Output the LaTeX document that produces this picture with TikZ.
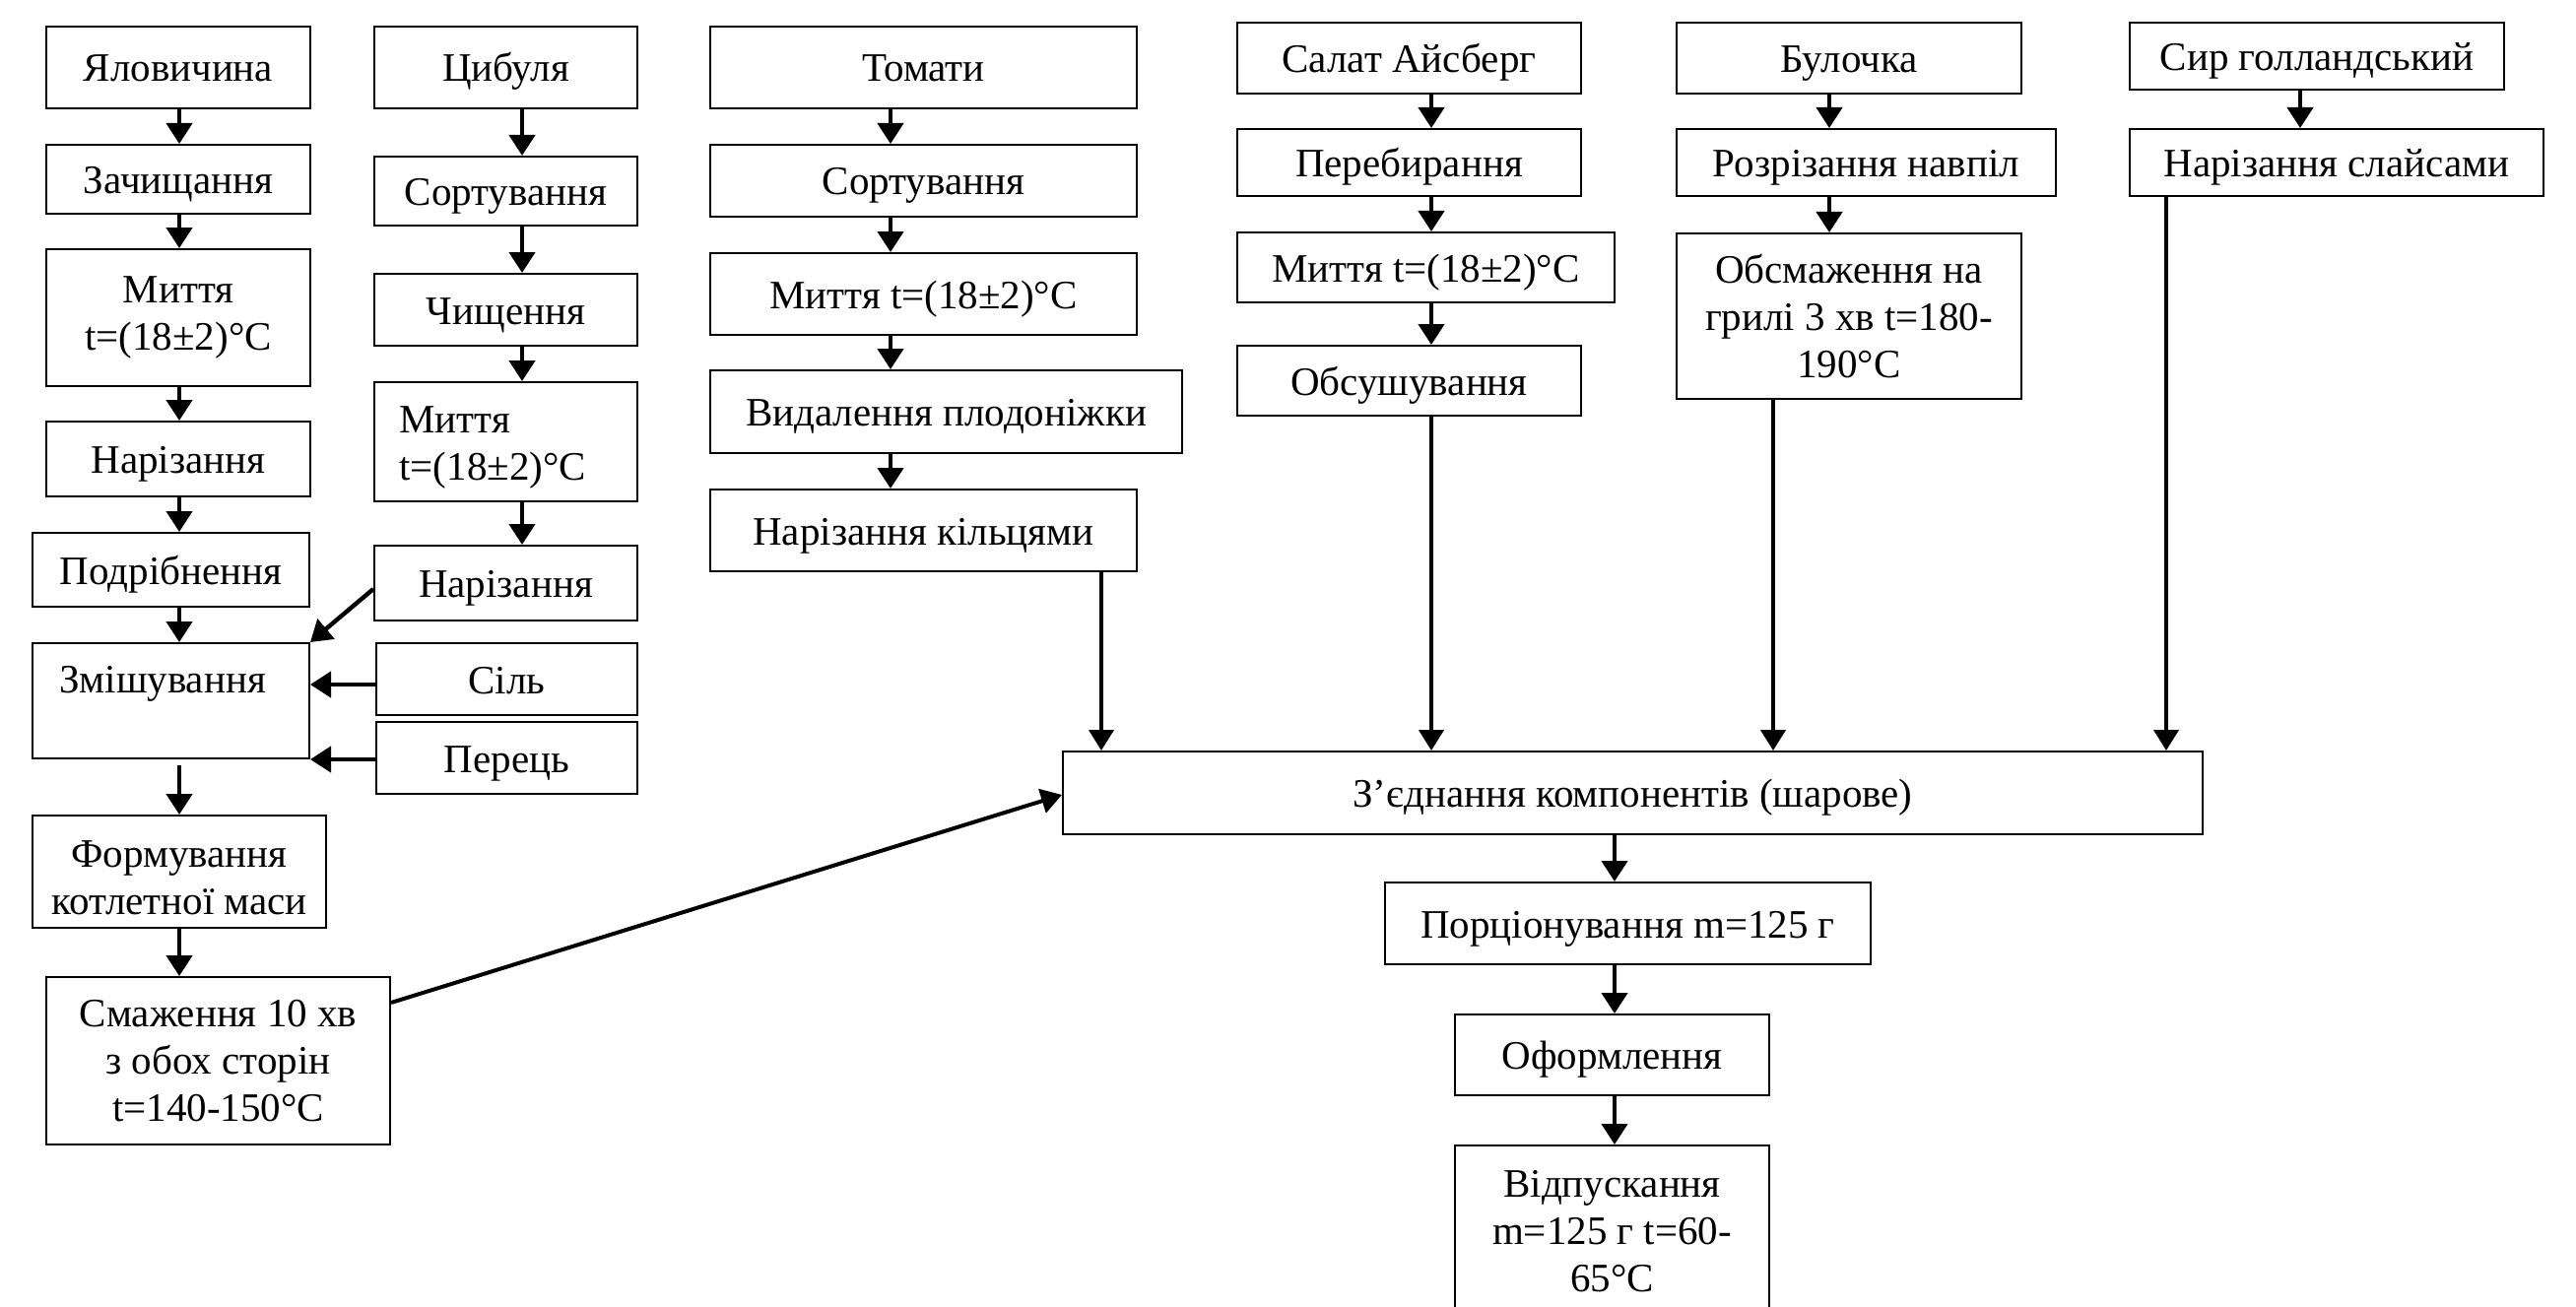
\documentclass[tikz,border=0pt]{standalone}
\usepackage{fontspec}
\setmainfont{Liberation Serif}
\usetikzlibrary{arrows.meta}
\tikzset{
  bxm/.style 2 args={draw, line width=1pt, rectangle, minimum width=#1*0.5pt, minimum height=#2*0.5pt, inner sep=0pt, align=center, font=\fontsize{20.5}{24}\selectfont},
  bx/.style 2 args={bxm={#1}{#2}, text height=14.5pt, text depth=0pt},
  txt/.style={inner sep=0pt, align=center, font=\fontsize{20.5}{24}\selectfont},
  arr/.style={line width=2.2pt, -{Triangle[length=10.5pt,width=13pt]}},
  longarr/.style={line width=2pt, -{Triangle[length=10.5pt,width=12.5pt]}}
}
\begin{document}
\begin{tikzpicture}[x=0.5pt,y=-0.5pt]
\useasboundingbox (0,0) rectangle (2615,1327);
\begin{scope}
\clip (0,0) rectangle (2615,1327);
% column 1
\node[bx={268}{83}] (yal) at (181,68.5) {Яловичина};
\node[bx={268}{70}] (zach) at (181,182) {Зачищання};
\node[bxm={268}{139}] (myl) at (181,322.5) {Миття\\t=(18±2)°C};
\node[bx={268}{76}] (narl) at (181,466) {Нарізання};
\node[bx={281}{75}] (podr) at (173.5,578.5) {Подрібнення};
\node[bxm={281}{117}] (zmish) at (173.5,711.5) {};
\node[txt, anchor=base] (zmisht) at (165,703) {Змішування};
\node[bxm={298}{114}] (form) at (182,885) {};
\node[txt] (formt) at (182,891) {Формування\\котлетної маси};
\node[bxm={349}{170}] (smaz) at (221.5,1077) {Смаження 10 хв\\з обох сторін\\t=140-150°C};
% column 2
\node[bx={267}{83}] (tsyb) at (513.5,68.5) {Цибуля};
\node[bx={267}{70}] (sortc) at (513.5,194) {Сортування};
\node[bx={267}{73}] (chysh) at (513.5,314.5) {Чищення};
\node[bxm={267}{121}] (mytc) at (513.5,448.5) {};
\node[txt, anchor=west, align=left] (mytct) at (405,454) {Миття\\t=(18±2)°C};
\node[bx={267}{76}] (narc) at (513.5,592) {Нарізання};
\node[bx={265}{73}] (sil) at (514.5,689.5) {Сіль};
\node[bx={265}{73}] (perets) at (514.5,769.5) {Перець};
% column 3
\node[bx={433}{83}] (tom) at (937.5,68.5) {Томати};
\node[bx={433}{73}] (sortt) at (937.5,183.5) {Сортування};
\node[bx={433}{83}] (mytt) at (937.5,298.5) {Миття t=(18±2)°C};
\node[bx={479}{84}] (vyd) at (960.5,418) {Видалення плодоніжки};
\node[bx={433}{83}] (nark) at (937.5,538.5) {Нарізання кільцями};
% column 4
\node[bx={349}{72}] (salat) at (1430.5,59) {Салат Айсберг};
\node[bx={349}{68}] (pereb) at (1430.5,165) {Перебирання};
\node[bx={383}{71}] (myts) at (1447.5,271.5) {Миття t=(18±2)°C};
\node[bx={349}{71}] (obsush) at (1430.5,386.5) {Обсушування};
% column 5
\node[bx={350}{72}] (bul) at (1877,59) {Булочка};
\node[bx={385}{68}] (rozr) at (1894.5,165) {Розрізання навпіл};
\node[bxm={350}{168}] (obsm) at (1877,321) {Обсмаження на\\грилі 3 хв t=180-\\190°C};
% column 6
\node[bx={380}{68}] (syr) at (2352,57) {Сир голландський};
\node[bx={420}{68}] (narsl) at (2372,165) {Нарізання слайсами};
% bottom
\node[bx={1157}{84}] (zyed) at (1657.5,805) {З’єднання компонентів (шарове)};
\node[bx={493}{83}] (porc) at (1652.5,937.5) {Порціонування m=125 г};
\node[bx={319}{82}] (oform) at (1636.5,1071) {Оформлення};
\node[bxm={319}{190}] (vidp) at (1636.5,1258) {};
\node[txt] (vidpt) at (1636.5,1250) {Відпускання\\m=125 г t=60-\\65°C};
% column coordinates
\coordinate (cA) at (182,0);
\coordinate (cB) at (530,0);
\coordinate (cC) at (904,0);
\coordinate (cD) at (1453,0);
\coordinate (cE) at (1857,0);
\coordinate (cF) at (2335,0);
\coordinate (cG) at (1639,0);
\coordinate (lk) at (1118,0);
\coordinate (lo) at (1800,0);
\coordinate (ls) at (2199,0);
\coordinate (zs) at (182,777);
% arrows column 1
\draw[arr] (yal.south -| cA) -- (zach.north -| cA);
\draw[arr] (zach.south -| cA) -- (myl.north -| cA);
\draw[arr] (myl.south -| cA) -- (narl.north -| cA);
\draw[arr] (narl.south -| cA) -- (podr.north -| cA);
\draw[arr] (podr.south -| cA) -- (zmish.north -| cA);
\draw[arr] (zs) -- (form.north -| cA);
\draw[arr] (form.south -| cA) -- (smaz.north -| cA);
% column 2
\draw[arr] (tsyb.south -| cB) -- (sortc.north -| cB);
\draw[arr] (sortc.south -| cB) -- (chysh.north -| cB);
\draw[arr] (chysh.south -| cB) -- (mytc.north -| cB);
\draw[arr] (mytc.south -| cB) -- (narc.north -| cB);
\draw[arr] ([yshift=-3pt]narc.west) -- (zmish.north east);
\draw[arr] ([yshift=-2.75pt]sil.west) -- ([yshift=-2.75pt]sil.west -| zmish.east);
\draw[arr] (perets.west |- zmish.south) -- (zmish.south east);
% column 3
\draw[arr] (tom.south -| cC) -- (sortt.north -| cC);
\draw[arr] (sortt.south -| cC) -- (mytt.north -| cC);
\draw[arr] (mytt.south -| cC) -- (vyd.north -| cC);
\draw[arr] (vyd.south -| cC) -- (nark.north -| cC);
% column 4
\draw[arr] (salat.south -| cD) -- (pereb.north -| cD);
\draw[arr] (pereb.south -| cD) -- (myts.north -| cD);
\draw[arr] (myts.south -| cD) -- (obsush.north -| cD);
% column 5
\draw[arr] (bul.south -| cE) -- (rozr.north -| cE);
\draw[arr] (rozr.south -| cE) -- (obsm.north -| cE);
% column 6
\draw[arr] (syr.south -| cF) -- (narsl.north -| cF);
% into joining box
\draw[longarr] (nark.south -| lk) -- (zyed.north -| lk);
\draw[longarr] (obsush.south -| cD) -- (zyed.north -| cD);
\draw[longarr] (obsm.south -| lo) -- (zyed.north -| lo);
\draw[longarr] (narsl.south -| ls) -- (zyed.north -| ls);
\draw[longarr] ([yshift=29.5pt]smaz.east) -- ([yshift=-1pt]zyed.west);
% bottom chain
\draw[arr] (zyed.south -| cG) -- (porc.north -| cG);
\draw[arr] (porc.south -| cG) -- (oform.north -| cG);
\draw[arr] (oform.south -| cG) -- (vidp.north -| cG);
\end{scope}
\end{tikzpicture}
\end{document}
